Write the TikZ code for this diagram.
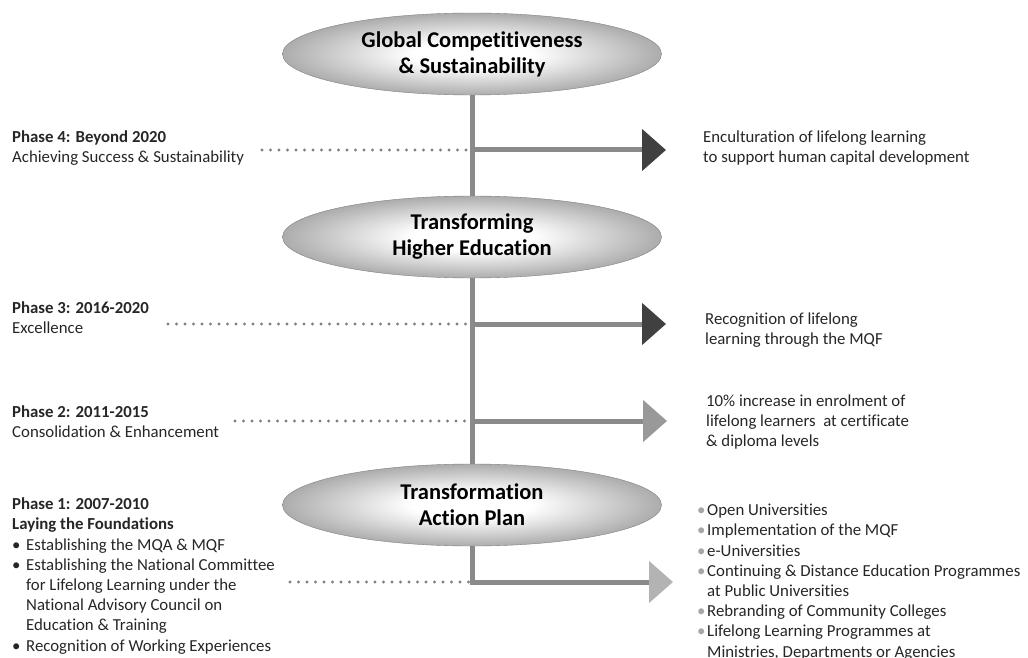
\documentclass[tikz,border=0pt]{standalone}
\usepackage{fontspec}
\setmainfont{Carlito}[Ligatures=NoCommon]
\usetikzlibrary{arrows.meta,shapes.geometric,positioning}
\definecolor{trunkgray}{HTML}{8A8A8A}
\definecolor{headdark}{HTML}{404040}
\definecolor{headmid}{HTML}{999999}
\definecolor{headlight}{HTML}{B3B3B3}
\definecolor{dotgray}{HTML}{7F7F7F}
\definecolor{bulletgray}{HTML}{A6A6A6}
\pgfdeclareradialshading{ovalshade}{\pgfpoint{0bp}{0bp}}{color(0bp)=(white); color(8bp)=(white); color(30bp)=(black!42); color(50bp)=(black!62); color(60bp)=(black!62)}
\newcommand{\lb}{\makebox[14pt][l]{\textbullet}}
\newcommand{\li}{\hspace*{14pt}}
\newcommand{\rb}{\makebox[10pt][l]{\textcolor{bulletgray}{\textbullet}}}
\newcommand{\ri}{\hspace*{10pt}}

\begin{document}
\begin{tikzpicture}[x=1pt, y=-1pt,
    oval/.style={ellipse, minimum width=379pt, minimum height=82pt, inner sep=0pt, shading=ovalshade, draw=black!50, line width=0.4pt, align=center, font=\bfseries\fontsize{22.5}{26}\selectfont},
    trunk/.style={draw=trunkgray, line width=5pt},
    dots/.style={draw=dotgray, line width=3.3pt, line cap=round, dash pattern=on 0pt off 8.5pt},
    txt/.style={anchor=west, align=left, inner sep=0pt, text=black!85, font=\fontsize{16.8}{20.2}\selectfont},
    head/.style={-{Triangle[length=24pt, width=41pt, color=#1]}}
  ]
    \useasboundingbox (0,0) rectangle (1028,658);

    % the three ovals on the trunk
    \node[oval] (glob) at (472,54) {Global Competitiveness\\\& Sustainability};
    \node[oval] (trans) at (472,237) {Transforming\\Higher Education};
    \node[oval] (plan) at (472,505) {Transformation\\Action Plan};

    % points on the trunk and arrow ends
    \coordinate (t4) at (472,150);
    \coordinate (t3) at (472,324);
    \coordinate (t2) at (472,421);
    \coordinate (h4) at (666,150);
    \coordinate (h3) at (666,324);
    \coordinate (h2) at (667,421);
    \coordinate (h1) at (673,582);
    \coordinate (d4) at (262,150);
    \coordinate (d3) at (168,324);
    \coordinate (d2) at (235,421);
    \coordinate (d1) at (290,582);
    \coordinate (t1) at (472,582);

    \draw[trunk] (glob) -- (trans);
    \draw[trunk] (trans) -- (plan);
    \draw[trunk, head=headdark] (t4) -- (h4);
    \draw[trunk, head=headdark] (t3) -- (h3);
    \draw[trunk, head=headmid] (t2) -- (h2);
    \draw[trunk, head=headlight] (plan.south) |- (h1);

    \draw[dots] (d4) -- (t4);
    \draw[dots] (d3) -- (t3);
    \draw[dots] (d2) -- (t2);
    \draw[dots] (d1) -- (t1);

    % phases on the left
    \node[txt] (p4) at (12,148) {\textbf{Phase 4: Beyond 2020}\\Achieving Success \& Sustainability};
    \node[txt] (p3) at (12,318) {\textbf{Phase 3: 2016-2020}\\Excellence};
    \node[txt] (p2) at (12,422) {\textbf{Phase 2: 2011-2015}\\Consolidation \& Enhancement};
    \node[txt] (p1) at (12,576) {\textbf{Phase 1: 2007-2010}\\\textbf{Laying the Foundations}\\
      \lb Establishing the MQA \& MQF\\
      \lb Establishing the National Committee\\
      \li for Lifelong Learning under the\\
      \li National Advisory Council on\\
      \li Education \& Training\\
      \lb Recognition of Working Experiences};

    % outcomes on the right
    \node[txt] (o4) at (703,148) {Enculturation of lifelong learning\\to support human capital development};
    \node[txt] (o3) at (705,330) {Recognition of lifelong\\learning through the MQF};
    \node[txt] (o2) at (706,422) {10\% increase in enrolment of\\lifelong learners\ \ at certificate\\\& diploma levels};
    \node[txt] (o1) at (697,582) {\rb Open Universities\\
      \rb Implementation of the MQF\\
      \rb e-Universities\\
      \rb Continuing \& Distance Education Programmes\\
      \ri at Public Universities\\
      \rb Rebranding of Community Colleges\\
      \rb Lifelong Learning Programmes at\\
      \ri Ministries, Departments or Agencies};
  \end{tikzpicture}
\end{document}
